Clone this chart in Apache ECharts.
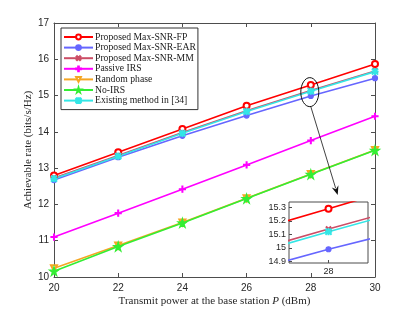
<!DOCTYPE html>
<html><head><meta charset="utf-8">
<script src="https://cdn.jsdelivr.net/npm/echarts@6/dist/echarts.min.js"></script>
<style>html,body{margin:0;padding:0;background:#fff}#c{width:415px;height:312px}</style>
</head><body><div id="c"></div>
<script>
const powers = [20, 22, 24, 26, 28, 30];
const fpRate = [12.80, 13.44, 14.08, 14.72, 15.29, 15.87];
const earRate = [12.67, 13.30, 13.89, 14.45, 14.99, 15.48];
const mmRate = [12.73, 13.35, 13.98, 14.58, 15.14, 15.68];
const passiveRate = [11.10, 11.76, 12.42, 13.09, 13.76, 14.43];
const randomRate = [10.24, 10.87, 11.50, 12.17, 12.84, 13.50];
const noIrsRate = [10.16, 10.84, 11.49, 12.16, 12.83, 13.49];
const existingRate = [12.71, 13.33, 13.96, 14.56, 15.12, 15.66];
const insetYTicks = [14.9, 15, 15.1, 15.2, 15.3];
const insetXTicks = [28];

const pair = arr => powers.map((p, i) => [p, arr[i]]);
const PLUS = 'path://M4.3,0H5.7V4.3H10V5.7H5.7V10H4.3V5.7H0V4.3H4.3Z';
const STAR = 'path://M50,0L61,35H98L68,57L79,91L50,70L21,91L32,57L2,35H39Z';
const AST = 'path://M4.4,0H5.6V10H4.4Z M0,4.4H10V5.6H0Z M1,0.2L9.8,9 9,9.8 0.2,1Z M9,0.2L9.8,1 1,9.8 0.2,9Z';

const defs = [
  {name: 'Proposed Max-SNR-FP', data: fpRate, color: '#ff0000', symbol: 'emptyCircle', size: 6},
  {name: 'Proposed Max-SNR-EAR', data: earRate, color: '#6666ff', symbol: 'circle', size: 5},
  {name: 'Proposed Max-SNR-MM', data: mmRate, color: '#cc4d66', symbol: PLUS, size: 6, rot: 45},
  {name: 'Passive IRS', data: passiveRate, color: '#ff00ff', symbol: PLUS, size: 6},
  {name: 'Random phase', data: randomRate, color: '#f5a623', symbol: 'emptyTriangle', size: 6, rot: 180},
  {name: 'No-IRS', data: noIrsRate, color: '#33ee33', symbol: STAR, size: 9},
  {name: 'Existing method in [34]', data: existingRate, color: '#33e6e6', symbol: AST, size: 6}
];
const insetNames = ['Proposed Max-SNR-FP', 'Proposed Max-SNR-EAR', 'Proposed Max-SNR-MM', 'Existing method in [34]'];

const mk = (d, xi, yi) => ({
  name: d.name, type: 'line', xAxisIndex: xi, yAxisIndex: yi,
  data: pair(d.data), symbol: d.symbol, symbolSize: d.size, symbolRotate: d.rot || 0,
  showSymbol: true, animation: false,
  lineStyle: {color: d.color, width: 1.6},
  itemStyle: {color: d.color, borderColor: d.color, borderWidth: 1.2},
  emphasis: {disabled: true}
});

const series = defs.map(d => mk(d, 0, 0));
defs.filter(d => insetNames.includes(d.name)).forEach(d => series.push(mk(d, 2, 2)));

const axisCol = '#4d4d4d';
const tickFont = {fontFamily: 'Liberation Sans', fontSize: 10, color: '#262626'};
const box = {show: true, lineStyle: {color: axisCol, width: 1}};
const tickIn = {show: true, inside: true, length: 4, lineStyle: {color: axisCol}};

const chart = echarts.init(document.getElementById('c'), null, {renderer: 'canvas'});
const option = {
  backgroundColor: '#fff',
  animation: false,
  grid: [
    {left: 54, right: 40, top: 23, bottom: 35},
    {left: 289, top: 202, width: 79, height: 61, show: true, borderColor: axisCol, borderWidth: 1, backgroundColor: 'transparent'}
  ],
  xAxis: [
    {type: 'value', gridIndex: 0, min: 20, max: 30, interval: 2, position: 'bottom',
     axisLine: box, axisTick: tickIn, splitLine: {show: false},
     axisLabel: Object.assign({margin: 6}, tickFont),
     name: '{n|Transmit power at the base station }{i|P}{n| (dBm)}', nameLocation: 'middle', nameGap: 19,
     nameMoveOverlap: false,
     nameTextStyle: {rich: {n: {fontFamily: 'Liberation Serif', fontSize: 11, color: '#262626'},
                            i: {fontFamily: 'Liberation Serif', fontStyle: 'italic', fontSize: 11, color: '#262626'}}}},
    {type: 'value', gridIndex: 0, min: 20, max: 30, interval: 2, position: 'top',
     axisLine: box, axisTick: tickIn, axisLabel: {show: false}, splitLine: {show: false}},
    {type: 'value', gridIndex: 1, min: 27.7, max: 28.3, position: 'bottom',
     axisLine: {show: false}, splitLine: {show: false},
     axisTick: {show: true, inside: true, length: 3, customValues: insetXTicks, lineStyle: {color: axisCol}},
     axisLabel: {show: true, customValues: insetXTicks, margin: 4, fontFamily: 'Liberation Sans', fontSize: 9, color: '#262626'}}
  ],
  yAxis: [
    {type: 'value', gridIndex: 0, min: 10, max: 17, interval: 1, position: 'left',
     axisLine: box, axisTick: tickIn, splitLine: {show: false},
     axisLabel: Object.assign({margin: 5}, tickFont),
     name: 'Achievable rate (bits/s/Hz)', nameLocation: 'middle', nameGap: 20,
     nameMoveOverlap: false,
     nameTextStyle: {fontFamily: 'Liberation Serif', fontSize: 11, color: '#262626'}},
    {type: 'value', gridIndex: 0, min: 10, max: 17, interval: 1, position: 'right',
     axisLine: box, axisTick: tickIn, axisLabel: {show: false}, splitLine: {show: false}},
    {type: 'value', gridIndex: 1, min: 14.888, max: 15.34, position: 'left',
     axisLine: {show: false}, splitLine: {show: false},
     axisTick: {show: true, inside: true, length: 3, customValues: insetYTicks, lineStyle: {color: axisCol}},
     axisLabel: {show: true, customValues: insetYTicks, margin: 3, fontFamily: 'Liberation Sans', fontSize: 9, color: '#262626'}}
  ],
  legend: {
    orient: 'vertical', left: 61, top: 28,
    data: defs.map(d => d.name),
    backgroundColor: '#fff', borderColor: '#333', borderWidth: 1,
    padding: [4, 2, 4, 2], itemWidth: 29, itemHeight: 6, itemGap: 0.6,
    selectedMode: false,
    textStyle: {fontFamily: 'Liberation Serif', fontSize: 9.7, lineHeight: 9, color: '#1a1a1a', padding: [0, 0, 0, -3]}
  },
  series: series
};
chart.setOption(option);

// annotation: ellipse around the x=28 cluster and arrow to the inset
const c = chart.convertToPixel({gridIndex: 0}, [28, 15.15]);
const tgt = chart.convertToPixel({gridIndex: 1}, [28.07, 15.34]);
const ex = c[0] - 1, ey = c[1] + 2, rx = 9, ry = 14.5;
const sx = ex + 1, sy = ey + ry;
const tx = tgt[0], ty = tgt[1] - 7;
const dx = tx - sx, dy = ty - sy, L = Math.hypot(dx, dy), ux = dx / L, uy = dy / L;
const hl = 9, hw = 3.5;
const bx = tx - ux * hl, by = ty - uy * hl;
chart.setOption({
  graphic: [
    {type: 'ellipse', shape: {cx: ex, cy: ey, rx: rx, ry: ry}, style: {fill: null, stroke: '#111', lineWidth: 1}, z: 100},
    {type: 'line', shape: {x1: sx, y1: sy, x2: bx + ux * 2, y2: by + uy * 2}, style: {stroke: '#111', lineWidth: 0.8}, z: 100},
    {type: 'polygon', shape: {points: [[tx, ty], [bx - uy * hw, by + ux * hw], [bx + ux * 3, by + uy * 3], [bx + uy * hw, by - ux * hw]]},
     style: {fill: '#111'}, z: 100}
  ]
});
</script></body></html>
